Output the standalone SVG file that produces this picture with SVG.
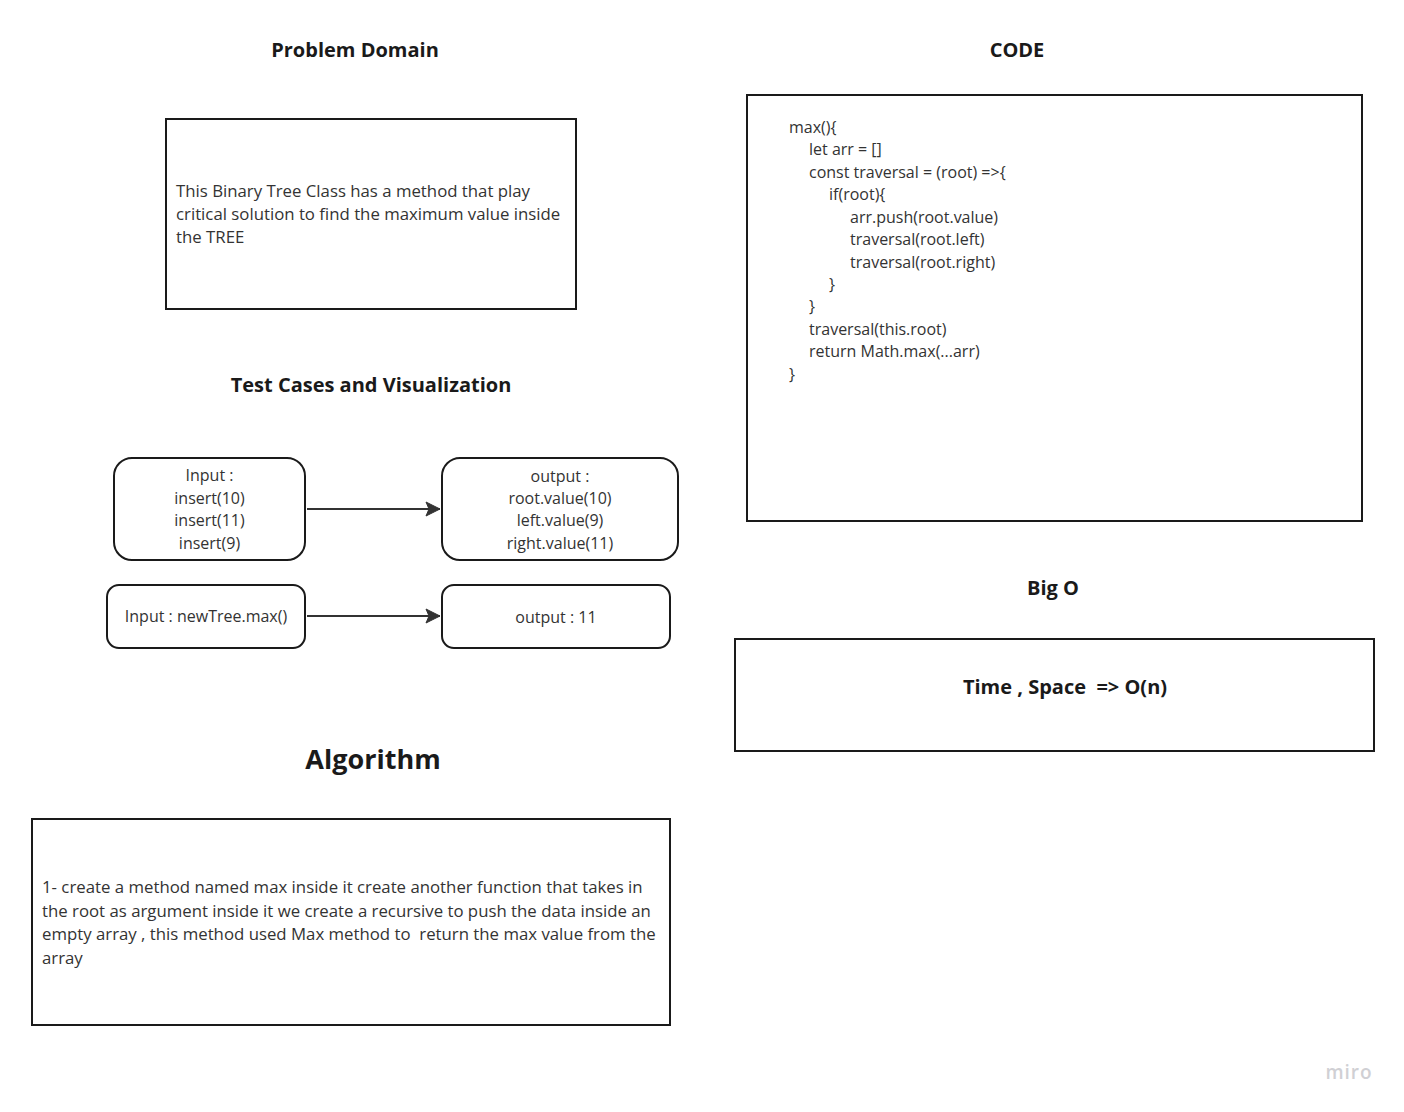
<svg xmlns="http://www.w3.org/2000/svg" width="1404" height="1112" viewBox="0 0 1404 1112">
<style>
text{font-family:"Open Sans","Noto Sans","Liberation Sans",sans-serif;fill:#333;white-space:pre}
.t{font-weight:bold;font-size:20px;fill:#1a1a1a;text-anchor:middle}
.b{font-size:16px}
.p{font-size:16.8px}
.c{font-size:16px;text-anchor:middle}
.box{fill:#fff;stroke:#1a1a1a;stroke-width:2}
.con{stroke:#333;stroke-width:2;fill:none}
</style>
<defs>
<marker id="ah" markerWidth="16" markerHeight="16" refX="15" refY="8" orient="auto" markerUnits="userSpaceOnUse" viewBox="0 0 16 16">
<path d="M1,1 L15,8 L1,15 L4,8 Z" fill="#333" stroke="#333" stroke-width="1" stroke-linejoin="round"/>
</marker>
</defs>
<rect width="1404" height="1112" fill="#fff"/>

<g id="titles">
<text class="t" x="355" y="57">Problem Domain</text>
<text class="t" x="1017" y="57">CODE</text>
<text class="t" x="371" y="392">Test Cases and Visualization</text>
<text class="t" x="1053" y="595">Big O</text>
<text class="t" x="373" y="769" style="font-size:27px">Algorithm</text>
</g>

<g id="problem">
<rect class="box" x="166" y="119" width="410" height="190"/>
<text class="p" x="176" y="197">This Binary Tree Class has a method that play</text>
<text class="p" x="176" y="220">critical solution to find the maximum value inside</text>
<text class="p" x="176" y="243">the TREE</text>
</g>

<g id="code">
<rect class="box" x="747" y="95" width="615" height="426"/>
<text class="b" x="789" y="133">max(){</text>
<text class="b" x="809" y="155">let arr = []</text>
<text class="b" x="809" y="178">const traversal = (root) =&gt;{</text>
<text class="b" x="829" y="200">if(root){</text>
<text class="b" x="850" y="223">arr.push(root.value)</text>
<text class="b" x="850" y="245">traversal(root.left)</text>
<text class="b" x="850" y="268">traversal(root.right)</text>
<text class="b" x="829" y="290">}</text>
<text class="b" x="809" y="312">}</text>
<text class="b" x="809" y="335">traversal(this.root)</text>
<text class="b" x="809" y="357">return Math.max(...arr)</text>
<text class="b" x="789" y="380">}</text>
</g>

<g id="input1">
<rect class="box" x="114" y="458" width="191" height="102" rx="18"/>
<text class="c" x="209.5" y="481">Input :</text>
<text class="c" x="209.5" y="504">insert(10)</text>
<text class="c" x="209.5" y="526">insert(11)</text>
<text class="c" x="209.5" y="549">insert(9)</text>
</g>

<g id="output1">
<rect class="box" x="442" y="458" width="236" height="102" rx="18"/>
<text class="c" x="560" y="482">output :</text>
<text class="c" x="560" y="504">root.value(10)</text>
<text class="c" x="560" y="526">left.value(9)</text>
<text class="c" x="560" y="549">right.value(11)</text>
</g>

<g id="input2">
<rect class="box" x="107" y="585" width="198" height="63" rx="12"/>
<text class="c" x="206" y="622">Input : newTree.max()</text>
</g>

<g id="output2">
<rect class="box" x="442" y="585" width="228" height="63" rx="12"/>
<text class="c" x="556" y="623">output : 11</text>
</g>

<g id="connectors">
<path class="con" d="M307,509 L440,509" marker-end="url(#ah)"/>
<path class="con" d="M307,616 L440,616" marker-end="url(#ah)"/>
</g>

<g id="bigo">
<rect class="box" x="735" y="639" width="639" height="112"/>
<text class="t" x="1065" y="694">Time , Space  =&gt; O(n)</text>
</g>

<g id="algorithm">
<rect class="box" x="32" y="819" width="638" height="206"/>
<text class="p" x="42" y="893">1- create a method named max inside it create another function that takes in</text>
<text class="p" x="42" y="917">the root as argument inside it we create a recursive to push the data inside an</text>
<text class="p" x="42" y="940">empty array , this method used Max method to  return the max value from the</text>
<text class="p" x="42" y="964">array</text>
</g>

<text x="1349" y="1079" style="font-size:19px;fill:#d0d0d4;text-anchor:middle;font-weight:600;letter-spacing:1px">miro</text>
</svg>
